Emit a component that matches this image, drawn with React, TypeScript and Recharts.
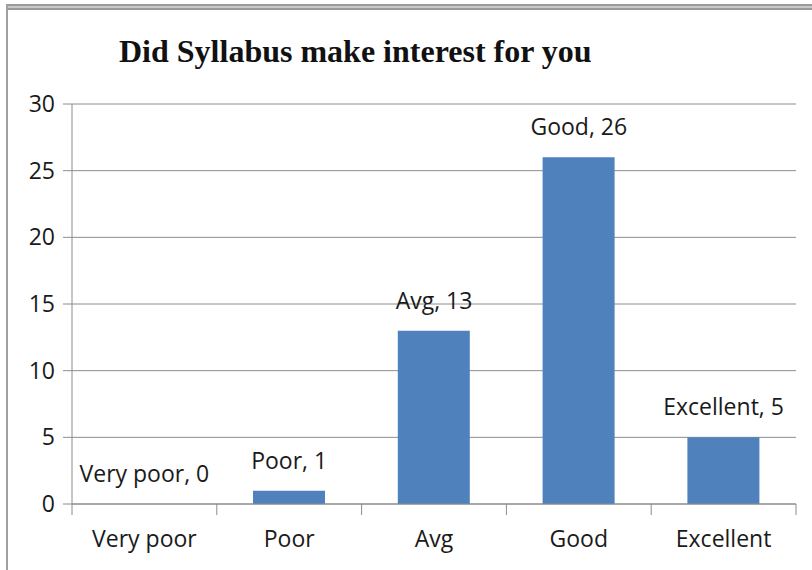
import React from "react";
import { ComposedChart, Bar, Line, XAxis, YAxis, CartesianGrid, LabelList } from "recharts";

const categories = ["Very poor", "Poor", "Avg", "Good", "Excellent"];
const responses = [0, 1, 13, 26, 5];
const yTicks = [0, 5, 10, 15, 20, 25, 30];

const chartData = categories.map((name, i) => ({ name, responses: responses[i] }));

const FONT = "'Open Sans', sans-serif";
const PLOT_LEFT = 72;
const PLOT_RIGHT_MARGIN = 16;
const CHART_W = 812;

// category tick marks sit on the band edges, like in Excel
const XTick = (props: any) => {
  const { x, y, payload, index } = props;
  const band = (CHART_W - PLOT_LEFT - PLOT_RIGHT_MARGIN) / categories.length;
  const left = x - band / 2;
  return (
    <g>
      <line x1={left} x2={left} y1={y} y2={y + 11} stroke="#8c8c8c" />
      {index === categories.length - 1 && (
        <line x1={left + band} x2={left + band} y1={y} y2={y + 11} stroke="#8c8c8c" />
      )}
      <text x={x} y={y + 43} textAnchor="middle" fontFamily={FONT} fontSize={23} fill="#1a1a1a">
        {payload.value}
      </text>
    </g>
  );
};

// labels ride on an invisible line so the zero bar gets one too
const PointLabel = (props: any) => {
  const { x, y, value } = props;
  const i = categories.indexOf(value);
  return (
    <text x={x} y={y - 22} textAnchor="middle" fontFamily={FONT} fontSize={23} fill="#1a1a1a">
      {`${value}, ${responses[i]}`}
    </text>
  );
};

const App: React.FC = () => {
  return (
    <div style={{ position: "absolute", left: 0, top: 0, width: 812, height: 570, background: "#fff" }}>
      <div
        style={{
          position: "absolute",
          left: 6,
          top: 4,
          width: 806,
          height: 6,
          boxSizing: "border-box",
          background: "#c8c8c8",
          borderTop: "2px solid #9a9a9a",
          borderBottom: "2px solid #9a9a9a",
        }}
      />
      <div style={{ position: "absolute", left: 6, top: 4, width: 2, height: 566, background: "#a0a0a0" }} />
      <div
        style={{
          position: "absolute",
          left: 119,
          top: 35,
          fontFamily: "'Liberation Serif', serif",
          fontWeight: "bold",
          fontSize: 32,
          lineHeight: "32px",
          color: "#111",
          whiteSpace: "nowrap",
        }}
      >
        Did Syllabus make interest for you
      </div>
      <div style={{ position: "absolute", left: 0, top: 0 }}>
        <ComposedChart
          width={CHART_W}
          height={570}
          data={chartData}
          margin={{ top: 104, right: PLOT_RIGHT_MARGIN, bottom: 0, left: 0 }}
          barCategoryGap="25%"
        >
          <CartesianGrid vertical={false} stroke="#8c8c8c" />
          <XAxis
            dataKey="name"
            axisLine={{ stroke: "#8c8c8c" }}
            tickLine={false}
            tickSize={0}
            tickMargin={0}
            tick={<XTick />}
            interval={0}
            height={66}
          />
          <YAxis
            domain={[0, 30]}
            ticks={yTicks}
            width={PLOT_LEFT}
            axisLine={{ stroke: "#8c8c8c" }}
            tickLine={{ stroke: "#8c8c8c" }}
            tickSize={9}
            tickMargin={8}
            tick={{ fontFamily: FONT, fontSize: 23, fill: "#1a1a1a" }}
          />
          <Bar dataKey="responses" fill="#4f81bd" isAnimationActive={false} />
          <Line
            dataKey="responses"
            stroke="none"
            dot={false}
            activeDot={false}
            legendType="none"
            isAnimationActive={false}
          >
            <LabelList dataKey="name" content={<PointLabel />} />
          </Line>
        </ComposedChart>
      </div>
    </div>
  );
};

export default App;
